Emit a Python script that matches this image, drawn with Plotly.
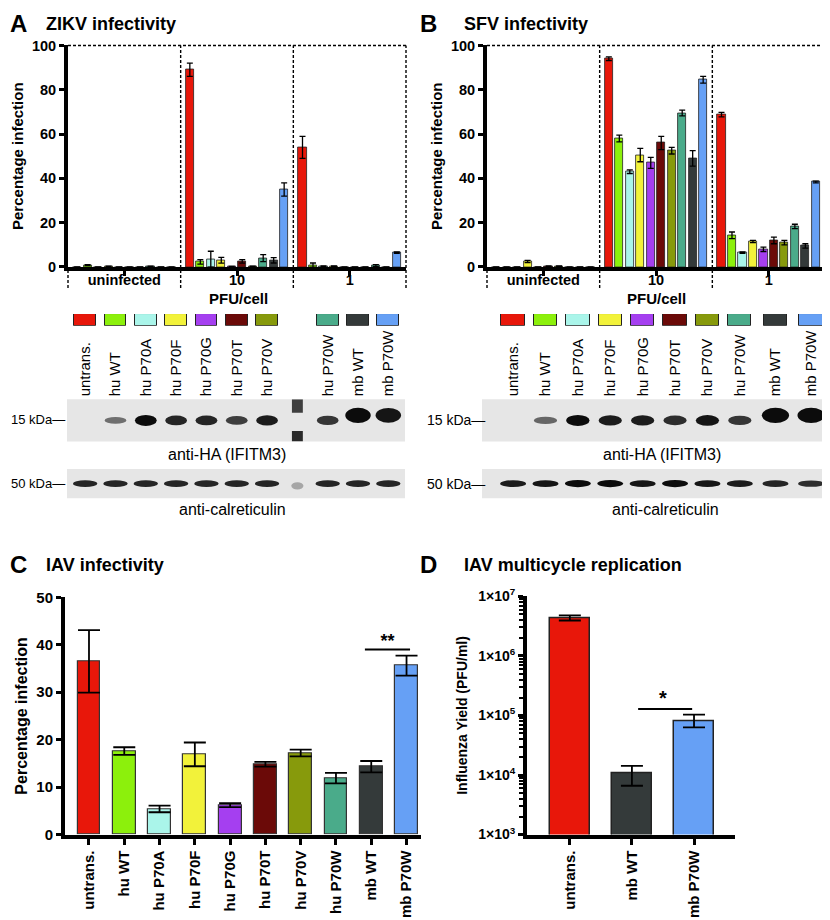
import plotly.graph_objects as go

# page body adds an 8px margin, so the figure is 8px smaller and all
# reference pixel positions are shifted by that amount
OFF = 8
W, H = 830 - OFF, 920 - OFF

# ---------------------------------------------------------------
# DATA
# ---------------------------------------------------------------
COLORS = ["#e8170a", "#8cf00c", "#aaf5ea", "#f2f23a", "#a53ff0",
          "#6b0a08", "#879a0c", "#4aab8a", "#343a3a", "#66a0f5"]
LANES = ["untrans.", "hu WT", "hu P70A", "hu P70F", "hu P70G",
         "hu P70T", "hu P70V", "hu P70W", "mb WT", "mb P70W"]
GROUPS = ["uninfected", "10", "1"]

# ZIKV (% infection), one list per group, order = LANES
zikv_uninf = [0.0, 0.8, 0.0, 0.3, 0.0, 0.0, 0.0, 0.3, 0.0, 0.0]
zikv_10 = [89.0, 2.3, 3.5, 3.0, 0.2, 2.5, 0.3, 4.0, 3.0, 35.0]
zikv_1 = [54.0, 0.8, 0.3, 0.3, 0.0, 0.0, 0.0, 0.6, 0.0, 6.5]
zikv_uninf_err = [0, 0.2, 0, 0.1, 0, 0, 0, 0.1, 0, 0]
zikv_10_err = [3.0, 1.0, 3.6, 1.3, 0.1, 0.8, 0.1, 1.6, 1.2, 3.0]
zikv_1_err = [5.0, 1.0, 0.2, 0.2, 0, 0, 0, 0.5, 0, 0.3]

# SFV (% infection)
sfv_uninf = [0.0, 0.0, 0.0, 2.5, 0.0, 0.4, 0.4, 0.0, 0.0, 0.0]
sfv_10 = [94.0, 58.0, 43.0, 50.5, 47.0, 56.0, 52.5, 69.5, 49.0, 84.5]
sfv_1 = [68.8, 14.3, 6.5, 11.5, 8.0, 12.0, 11.0, 18.3, 9.5, 38.4]
sfv_uninf_err = [0, 0, 0, 0.5, 0, 0.1, 0.1, 0, 0, 0]
sfv_10_err = [0.8, 1.5, 0.8, 3.0, 2.5, 3.0, 1.5, 1.3, 3.5, 1.5]
sfv_1_err = [1.0, 1.5, 0.3, 0.5, 1.0, 1.5, 1.0, 1.0, 1.0, 0.4]

# blot band intensities (0 = none, 1 = strong), order = LANES
blot_a_ha = [0.0, 0.4, 1.0, 0.85, 0.85, 0.7, 0.9, 0.75, 1.0, 0.95]
blot_a_cal = [0.85, 0.85, 0.85, 0.85, 0.85, 0.85, 0.85, 0.85, 0.85, 0.85]
blot_b_ha = [0.0, 0.45, 1.0, 0.9, 0.9, 0.8, 0.95, 0.75, 1.0, 1.0]
blot_b_cal = [0.9, 0.95, 1.0, 1.0, 0.95, 1.0, 0.95, 0.9, 0.85, 0.8]

# IAV infectivity (% infection)
iav_pct = [36.5, 17.6, 5.4, 16.9, 6.2, 14.8, 17.2, 11.9, 14.3, 35.6]
iav_pct_err = [6.6, 0.8, 0.7, 2.5, 0.4, 0.5, 0.7, 1.1, 1.2, 2.1]

# IAV multicycle yield (PFU/ml)
yield_labels = ["untrans.", "mb WT", "mb P70W"]
yield_colors = ["#e8170a", "#343a3a", "#66a0f5"]
yield_vals = [4.25e6, 1.05e4, 7.9e4]
yield_err_hi = [0.55e6, 0.37e4, 2.4e4]
yield_err_lo = [0.32e6, 0.39e4, 1.6e4]

FONT = "Liberation Sans, Arial, sans-serif"


def px_x(p):
    return (p - OFF) / W


def px_y(p):
    return 1 - (p - OFF) / H


def bold(size):
    return dict(family=FONT, size=size, color="black", weight="bold")


fig = go.Figure()

# ---------------------------------------------------------------
# A / B : grouped infectivity bars
# ---------------------------------------------------------------
GSPAN = 10.75


def grouped_panel(n, groups, errs, left, right):
    xa = "x" if n == 1 else "x%d" % n
    ya = "y" if n == 1 else "y%d" % n
    for g, (vals, err) in enumerate(zip(groups, errs)):
        fig.add_trace(go.Bar(
            x=[g * GSPAN + 0.875 + s for s in range(10)], y=vals,
            width=0.78, marker=dict(color=COLORS, line=dict(color="#222", width=0.8)),
            error_y=dict(type="data", array=err, color="black", thickness=1.3, width=3),
            xaxis=xa, yaxis=ya, showlegend=False,
        ))
    lay = "xaxis" if n == 1 else "xaxis%d" % n
    lay_y = "yaxis" if n == 1 else "yaxis%d" % n
    fig.update_layout(**{
        lay: dict(domain=[px_x(left), px_x(right)], range=[0, 3 * GSPAN],
                  anchor=ya, showline=True, linewidth=4, linecolor="black",
                  tickvals=[g * GSPAN + GSPAN / 2 for g in range(3)], ticktext=GROUPS,
                  ticks="outside", ticklen=5, tickwidth=3, tickcolor="black",
                  ticklabelstandoff=-8,
                  showgrid=False, zeroline=False, fixedrange=True,
                  tickfont=bold(14.5)),
        lay_y: dict(domain=[px_y(262), px_y(36)], range=[0, 100], anchor=xa,
                    showline=True, linewidth=4, linecolor="black",
                    tickvals=[0, 20, 40, 60, 80, 100], ticks="outside", ticklen=5,
                    tickwidth=3, tickcolor="black", showgrid=False, zeroline=False,
                    tickfont=bold(14.5),
                    title=dict(text="Percentage infection", standoff=6, font=bold(15))),
    })
    dash = dict(color="black", width=1.4, dash="3px,2px")
    fig.add_shape(type="line", xref=xa + " domain", yref=ya + " domain",
                  x0=0, x1=1, y0=1, y1=1, line=dash)
    for k in range(1, 4):
        fig.add_shape(type="line", xref=xa + " domain", yref=ya + " domain",
                      x0=k / 3, x1=k / 3, y0=-0.095, y1=1, line=dash)
    fig.add_shape(type="line", xref=xa + " domain", yref=ya + " domain",
                  x0=0, x1=0, y0=-0.095, y1=-0.01, line=dash)


grouped_panel(1, [zikv_uninf, zikv_10, zikv_1],
              [zikv_uninf_err, zikv_10_err, zikv_1_err], 68, 406)
grouped_panel(2, [sfv_uninf, sfv_10, sfv_1],
              [sfv_uninf_err, sfv_10_err, sfv_1_err], 487, 825)

# ---------------------------------------------------------------
# colour key + western blots
# ---------------------------------------------------------------


def blot_block(n0, lane_x, x_range, left, right, ha, cal):
    # n0: legend axis number, n0+1 HA blot, n0+2 calreticulin blot
    xl, yl = "x%d" % n0, "y%d" % n0
    fig.add_trace(go.Bar(
        x=lane_x, y=[1] * 10, width=0.72,
        marker=dict(color=COLORS, line=dict(color="#222", width=1)),
        xaxis=xl, yaxis=yl, showlegend=False, hoverinfo="skip"))
    hidden = dict(visible=False, fixedrange=True)
    fig.update_layout(**{
        "xaxis%d" % n0: dict(domain=[px_x(left), px_x(right)], range=x_range, anchor=yl, **hidden),
        "yaxis%d" % n0: dict(domain=[px_y(322), px_y(310)], range=[0, 1], anchor=xl, **hidden),
    })
    for n, band, (top, bot) in [(n0 + 1, ha, (397, 440)), (n0 + 2, cal, (468, 498))]:
        xa, ya = "x%d" % n, "y%d" % n
        is_ha = n == n0 + 1
        ax = dict(domain=[px_x(left), px_x(right)], range=x_range, anchor=ya,
                  showgrid=False, zeroline=False, showline=False, fixedrange=True)
        if is_ha:
            ax.update(side="top", tickvals=lane_x, ticktext=LANES, tickangle=-90,
                      ticks="", ticklabelstandoff=2,
                      tickfont=dict(family=FONT, size=15, color="black"))
        else:
            ax.update(showticklabels=False)
        fig.update_layout(**{
            "xaxis%d" % n: ax,
            "yaxis%d" % n: dict(domain=[px_y(bot), px_y(top)], range=[0, 1], anchor=xa,
                                visible=False, fixedrange=True),
        })
        fig.add_shape(type="rect", xref=xa + " domain", yref=ya + " domain",
                      x0=0, x1=1, y0=0, y1=1, fillcolor="#e6e6e6", line=dict(width=0),
                      layer="below")
        for lx, v, lab in zip(lane_x, band, LANES):
            if v <= 0:
                continue
            if is_ha:
                mb = lab.startswith("mb")
                yc = 0.62 if mb else 0.5
                hi = (0.05 + 0.08 * v) + (0.05 if mb else 0)
                hw = 0.42 if mb else 0.36
            else:
                yc, hi, hw = 0.5, 0.07 + 0.05 * v, 0.4
            fig.add_shape(type="circle", xref=xa, yref=ya,
                          x0=lx - hw, x1=lx + hw, y0=yc - hi, y1=yc + hi,
                          fillcolor="rgba(12,12,12,%.2f)" % (0.25 + 0.75 * v),
                          line=dict(width=0))


# panel A: marker lane sits between hu P70V and hu P70W
lanes_a = [0, 1, 2, 3, 4, 5, 6, 8, 9, 10]
blot_block(3, lanes_a, [-0.6, 10.55], 67, 405, blot_a_ha, blot_a_cal)
# marker lane smear in A
fig.add_shape(type="rect", xref="x4", yref="y4", x0=6.82, x1=7.18, y0=0.68, y1=1,
              fillcolor="rgba(20,20,20,0.8)", line=dict(width=0))
fig.add_shape(type="rect", xref="x4", yref="y4", x0=6.82, x1=7.18, y0=0.0, y1=0.25,
              fillcolor="rgba(20,20,20,0.9)", line=dict(width=0))
fig.add_shape(type="circle", xref="x5", yref="y5", x0=6.8, x1=7.2, y0=0.3, y1=0.55,
              fillcolor="rgba(20,20,20,0.3)", line=dict(width=0))

lanes_b = [0, 1, 2, 3, 4, 5, 6, 7, 8.1, 9.2]
blot_block(6, lanes_b, [-0.96, 9.63], 482, 825, blot_b_ha, blot_b_cal)

# ---------------------------------------------------------------
# C : IAV infectivity
# ---------------------------------------------------------------
c_x = list(range(len(LANES)))
fig.add_trace(go.Bar(
    x=c_x, y=iav_pct, width=0.65,
    marker=dict(color=COLORS, line=dict(color="#333", width=1.2)),
    error_y=dict(type="data", array=iav_pct_err, color="black", thickness=1.8, width=11),
    xaxis="x9", yaxis="y9", showlegend=False))
fig.add_trace(go.Scatter(x=[7.82, 9.1], y=[39, 39], mode="lines",
                         line=dict(color="black", width=2), xaxis="x9", yaxis="y9",
                         showlegend=False, hoverinfo="skip"))
fig.add_trace(go.Scatter(x=[8.46], y=[40.4], mode="text", text=["**"],
                         textfont=bold(18),
                         xaxis="x9", yaxis="y9", showlegend=False, hoverinfo="skip"))

fig.update_layout(
    xaxis9=dict(domain=[px_x(65), px_x(421)], range=[-0.68, 9.41], anchor="y9",
                showline=True, linewidth=4, linecolor="black", ticks="outside",
                ticklen=6, tickwidth=3, tickcolor="black", tickangle=-90,
                tickvals=c_x, ticktext=LANES,
                tickfont=bold(15), showgrid=False, zeroline=False, fixedrange=True),
    yaxis9=dict(domain=[px_y(841), px_y(599)], range=[0, 50], anchor="x9",
                showline=True, linewidth=4, linecolor="black", ticks="outside",
                ticklen=5, tickwidth=3, tickcolor="black", dtick=10,
                tickfont=bold(15), showgrid=False, zeroline=False, fixedrange=True,
                title=dict(text="Percentage infection", standoff=6, font=bold(16))),
)

# ---------------------------------------------------------------
# D : IAV multicycle replication (log scale)
# ---------------------------------------------------------------
d_x = list(range(len(yield_labels)))
fig.add_trace(go.Bar(
    x=d_x, y=yield_vals, width=0.65,
    marker=dict(color=yield_colors, line=dict(color="#222", width=1.5)),
    error_y=dict(type="data", array=yield_err_hi, arrayminus=yield_err_lo,
                 color="black", thickness=1.8, width=11),
    xaxis="x10", yaxis="y10", showlegend=False))
fig.add_trace(go.Scatter(x=[1.1, 1.97], y=[1.29e5, 1.29e5], mode="lines",
                         line=dict(color="black", width=2), xaxis="x10", yaxis="y10",
                         showlegend=False, hoverinfo="skip"))
fig.add_trace(go.Scatter(x=[1.5], y=[1.8e5], mode="text", text=["*"],
                         textfont=bold(20),
                         xaxis="x10", yaxis="y10", showlegend=False, hoverinfo="skip"))

decades = [1e3, 1e4, 1e5, 1e6, 1e7]
minor_vals = [m * d for d in decades[:-1] for m in range(2, 10)]
fig.update_layout(
    xaxis10=dict(domain=[px_x(527), px_x(735)], range=[-0.69, 2.66], anchor="y10",
                 showline=True, linewidth=4, linecolor="black", ticks="outside",
                 ticklen=6, tickwidth=3, tickcolor="black", tickangle=-90,
                 tickvals=d_x, ticktext=yield_labels,
                 tickfont=bold(15), showgrid=False, zeroline=False, fixedrange=True),
    yaxis10=dict(domain=[px_y(841), px_y(598)], type="log", range=[3, 7], anchor="x10",
                 showline=True, linewidth=4, linecolor="black", ticks="outside",
                 ticklen=5, tickwidth=3, tickcolor="black",
                 tickvals=decades,
                 ticktext=["1×10<sup>%d</sup>" % e for e in range(3, 8)],
                 minor=dict(tickvals=minor_vals, ticks="outside", ticklen=4,
                            tickwidth=2, tickcolor="black", showgrid=False),
                 tickfont=bold(14),
                 showgrid=False, zeroline=False, fixedrange=True,
                 title=dict(text="Influenza Yield (PFU/ml)", standoff=8, font=bold(14))),
)

# ---------------------------------------------------------------
# text labels
# ---------------------------------------------------------------
ann = []


def label(text, x, y, size, is_bold=True, xanchor="left", yanchor="middle"):
    ann.append(dict(text=text, x=px_x(x), y=px_y(y), xref="paper", yref="paper",
                    showarrow=False, xanchor=xanchor, yanchor=yanchor,
                    font=dict(family=FONT, size=size, color="black",
                              weight="bold" if is_bold else "normal")))


label("A", 8, 14, 24)
label("ZIKV infectivity", 44, 14, 18)
label("B", 418, 14, 24)
label("SFV infectivity", 462, 14, 18)
label("C", 8, 566, 24)
label("IAV infectivity", 44, 566, 18)
label("D", 418, 566, 24)
label("IAV multicycle replication", 462, 566, 18)

label("PFU/cell", 238, 294, 15, xanchor="center")
label("PFU/cell", 656, 294, 15, xanchor="center")

label("15 kDa—", 67, 418, 13, is_bold=False, xanchor="right")
label("50 kDa—", 67, 483, 13, is_bold=False, xanchor="right")
label("15 kDa—", 487, 418, 14, is_bold=False, xanchor="right")
label("50 kDa—", 487, 483, 14, is_bold=False, xanchor="right")
label("anti-HA (IFITM3)", 227, 453, 16, is_bold=False, xanchor="center")
label("anti-calreticulin", 232, 509, 16, is_bold=False, xanchor="center")
label("anti-HA (IFITM3)", 662, 453, 16, is_bold=False, xanchor="center")
label("anti-calreticulin", 665, 509, 16, is_bold=False, xanchor="center")

fig.update_layout(
    width=W, height=H, margin=dict(l=0, r=0, t=0, b=0),
    paper_bgcolor="white", plot_bgcolor="white",
    barmode="overlay", bargap=0,
    annotations=ann,
    font=dict(family=FONT, color="black"),
)

fig.write_html("out.html")
